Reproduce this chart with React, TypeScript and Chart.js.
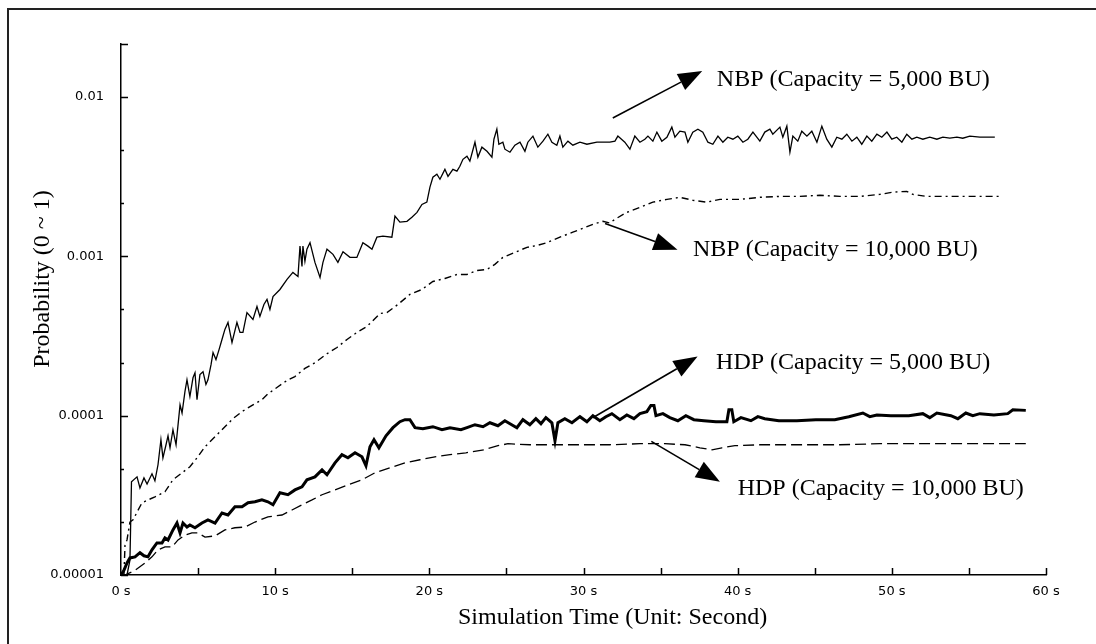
import React, { useEffect, useRef } from "react";
import { Chart, registerables } from "chart.js";

Chart.register(...registerables);

// [time (s), blocking probability]
const nbp5000: [number, number][] = [
  [0.39, 1.0e-5], [0.58, 1.24e-5], [0.62, 1.92e-5], [0.68, 3.85e-5], [1.04, 4.13e-5], [1.23, 3.52e-5],
  [1.49, 4.07e-5], [1.69, 3.73e-5], [2.01, 4.32e-5], [2.2, 3.9e-5], [2.4, 4.92e-5], [2.59, 7.06e-5],
  [2.72, 5.44e-5], [2.92, 6.57e-5], [3.05, 7.48e-5], [3.18, 6.29e-5], [3.37, 8.16e-5], [3.57, 6.57e-5],
  [3.83, 1.17e-4], [3.96, 1.04e-4], [4.15, 1.42e-4], [4.28, 1.68e-4], [4.47, 1.32e-4], [4.67, 1.73e-4],
  [4.8, 1.86e-4], [4.93, 1.26e-4], [5.12, 1.81e-4], [5.32, 1.89e-4], [5.51, 1.57e-4], [5.64, 1.68e-4],
  [5.84, 2.09e-4], [5.97, 2.49e-4], [6.16, 2.25e-4], [6.36, 2.6e-4], [6.55, 3.01e-4], [6.74, 3.48e-4],
  [6.94, 3.85e-4], [7.2, 2.88e-4], [7.52, 3.85e-4], [7.72, 3.33e-4], [7.91, 3.33e-4], [8.17, 4.44e-4],
  [8.56, 4.02e-4], [8.82, 4.85e-4], [9.01, 4.2e-4], [9.27, 4.99e-4], [9.47, 5.37e-4], [9.66, 4.64e-4],
  [9.86, 5.6e-4], [10.31, 6.2e-4], [10.77, 7.17e-4], [11.15, 7.93e-4], [11.48, 7.48e-4], [11.61, 1.16e-3],
  [11.74, 8.65e-4], [11.8, 1.16e-3], [11.93, 9.31e-4], [12.06, 1.11e-3], [12.26, 1.22e-3], [12.58, 9.17e-4],
  [12.91, 7.38e-4], [13.1, 9.17e-4], [13.36, 1.11e-3], [13.75, 1.03e-3], [14.07, 9.17e-4], [14.4, 1.07e-3],
  [14.85, 9.86e-4], [15.3, 9.86e-4], [15.69, 1.22e-3], [16.02, 1.16e-3], [16.28, 1.11e-3], [16.6, 1.32e-3],
  [16.99, 1.34e-3], [17.57, 1.32e-3], [17.77, 1.79e-3], [18.09, 1.64e-3], [18.55, 1.66e-3], [18.87, 1.76e-3],
  [19.2, 1.89e-3], [19.52, 2.12e-3], [19.84, 2.19e-3], [20.04, 2.72e-3], [20.23, 3.14e-3], [20.49, 3.28e-3],
  [20.69, 3.05e-3], [21.01, 3.52e-3], [21.21, 3.18e-3], [21.53, 3.52e-3], [21.79, 3.43e-3], [21.98, 3.68e-3],
  [22.18, 4.07e-3], [22.44, 4.26e-3], [22.63, 3.96e-3], [22.96, 5.21e-3], [23.15, 4.2e-3], [23.41, 4.85e-3],
  [23.74, 4.57e-3], [24.06, 4.2e-3], [24.19, 5.44e-3], [24.38, 6.29e-3], [24.51, 5.06e-3], [24.77, 5.21e-3],
  [24.9, 4.71e-3], [25.23, 4.51e-3], [25.55, 4.99e-3], [25.88, 5.21e-3], [26.2, 4.57e-3], [26.39, 5.21e-3],
  [26.72, 5.69e-3], [27.04, 4.85e-3], [27.37, 5.29e-3], [27.69, 5.85e-3], [27.95, 5.21e-3], [28.27, 4.99e-3],
  [28.47, 5.69e-3], [28.66, 4.85e-3], [28.99, 5.29e-3], [29.31, 4.99e-3], [29.77, 5.21e-3], [30.22, 5.06e-3],
  [30.87, 5.21e-3], [31.71, 5.21e-3], [32.04, 5.29e-3], [32.23, 5.69e-3], [32.68, 5.21e-3], [33.01, 4.71e-3],
  [33.33, 5.69e-3], [33.66, 5.21e-3], [33.98, 5.44e-3], [34.18, 5.69e-3], [34.5, 5.29e-3], [34.76, 6.03e-3],
  [35.08, 5.29e-3], [35.41, 5.6e-3], [35.73, 6.48e-3], [35.93, 5.6e-3], [36.25, 6.11e-3], [36.58, 6.03e-3],
  [36.77, 5.21e-3], [37.09, 6.03e-3], [37.42, 6.29e-3], [37.74, 6.03e-3], [38.07, 5.21e-3], [38.39, 5.06e-3],
  [38.72, 5.69e-3], [39.04, 5.21e-3], [39.36, 5.6e-3], [39.69, 5.44e-3], [40.01, 5.69e-3], [40.34, 5.21e-3],
  [40.66, 5.44e-3], [40.99, 6.03e-3], [41.44, 5.29e-3], [41.76, 6.03e-3], [42.09, 6.29e-3], [42.28, 5.85e-3],
  [42.74, 6.48e-3], [42.93, 5.6e-3], [43.19, 6.57e-3], [43.39, 4.51e-3], [43.58, 5.69e-3], [43.9, 5.29e-3],
  [44.16, 6.11e-3], [44.49, 5.69e-3], [44.81, 6.11e-3], [45.14, 5.21e-3], [45.46, 6.57e-3], [45.78, 5.44e-3],
  [46.11, 4.85e-3], [46.43, 5.6e-3], [46.76, 5.44e-3], [47.08, 5.85e-3], [47.41, 5.29e-3], [47.73, 5.6e-3],
  [48.05, 5.06e-3], [48.38, 5.69e-3], [48.7, 5.29e-3], [49.03, 5.85e-3], [49.35, 5.6e-3], [49.68, 6.03e-3],
  [50.0, 5.44e-3], [50.32, 5.6e-3], [50.65, 5.21e-3], [50.97, 5.85e-3], [51.3, 5.44e-3], [51.62, 5.6e-3],
  [52.01, 5.44e-3], [52.46, 5.6e-3], [52.92, 5.44e-3], [53.31, 5.6e-3], [53.76, 5.52e-3], [54.22, 5.6e-3],
  [54.6, 5.52e-3], [55.06, 5.69e-3], [55.71, 5.6e-3], [56.68, 5.6e-3],
];

const nbp10000: [number, number][] = [
  [0.19, 1.0e-5], [0.26, 1.54e-5], [0.39, 1.66e-5], [0.58, 2.15e-5], [0.78, 2.22e-5], [1.36, 2.84e-5],
  [1.75, 2.96e-5], [2.2, 3.09e-5], [2.85, 3.33e-5], [3.37, 3.96e-5], [3.96, 4.38e-5], [4.47, 4.78e-5],
  [4.93, 5.44e-5], [5.45, 6.38e-5], [5.9, 7.06e-5], [6.55, 8.16e-5], [7.26, 9.58e-5], [7.91, 1.07e-4],
  [8.56, 1.17e-4], [9.14, 1.26e-4], [9.53, 1.37e-4], [10.18, 1.52e-4], [10.83, 1.68e-4], [11.28, 1.76e-4],
  [11.93, 1.98e-4], [12.58, 2.15e-4], [13.36, 2.45e-4], [14.01, 2.68e-4], [14.66, 3.01e-4], [15.3, 3.33e-4],
  [15.95, 3.63e-4], [16.8, 4.38e-4], [17.25, 4.44e-4], [17.96, 4.99e-4], [18.74, 5.77e-4], [19.52, 6.2e-4],
  [20.23, 6.96e-4], [21.01, 7.27e-4], [21.79, 7.7e-4], [22.44, 7.7e-4], [23.09, 8.16e-4], [23.74, 8.28e-4],
  [24.25, 8.91e-4], [24.77, 9.86e-4], [25.55, 1.06e-3], [26.33, 1.14e-3], [26.98, 1.17e-3], [27.63, 1.22e-3],
  [28.47, 1.32e-3], [29.31, 1.42e-3], [29.96, 1.5e-3], [30.61, 1.59e-3], [31.26, 1.66e-3], [31.71, 1.62e-3],
  [32.04, 1.71e-3], [32.81, 1.89e-3], [33.66, 2.03e-3], [34.5, 2.19e-3], [35.41, 2.28e-3], [36.25, 2.35e-3],
  [37.09, 2.25e-3], [38.0, 2.19e-3], [38.85, 2.28e-3], [40.14, 2.28e-3], [41.44, 2.35e-3], [42.74, 2.38e-3],
  [44.03, 2.38e-3], [45.33, 2.42e-3], [46.63, 2.38e-3], [47.92, 2.38e-3], [49.22, 2.45e-3], [50.06, 2.53e-3],
  [50.97, 2.56e-3], [51.36, 2.45e-3], [52.27, 2.38e-3], [53.57, 2.38e-3], [54.86, 2.38e-3], [56.16, 2.38e-3],
  [57.13, 2.38e-3],
];

const hdp5000: [number, number][] = [
  [0.0, 1.0e-5], [0.19, 1.07e-5], [0.39, 1.19e-5], [0.58, 1.28e-5], [0.91, 1.3e-5], [1.23, 1.38e-5],
  [1.49, 1.32e-5], [1.75, 1.3e-5], [2.01, 1.44e-5], [2.33, 1.59e-5], [2.66, 1.59e-5], [2.85, 1.71e-5],
  [3.05, 1.66e-5], [3.37, 1.92e-5], [3.63, 2.12e-5], [3.83, 1.84e-5], [4.02, 2.12e-5], [4.28, 2.0e-5],
  [4.47, 2.06e-5], [4.8, 1.98e-5], [5.25, 2.12e-5], [5.64, 2.22e-5], [6.1, 2.12e-5], [6.55, 2.45e-5],
  [6.94, 2.38e-5], [7.39, 2.68e-5], [7.85, 2.68e-5], [8.24, 2.84e-5], [8.69, 2.88e-5], [9.14, 2.96e-5],
  [9.53, 2.88e-5], [9.86, 2.76e-5], [10.31, 3.28e-5], [10.83, 3.19e-5], [11.28, 3.42e-5], [11.74, 3.58e-5],
  [12.06, 3.96e-5], [12.58, 4.13e-5], [13.04, 4.57e-5], [13.36, 4.26e-5], [13.88, 5.06e-5], [14.33, 5.69e-5],
  [14.72, 5.44e-5], [15.18, 5.85e-5], [15.63, 5.52e-5], [15.89, 4.85e-5], [16.15, 6.38e-5], [16.41, 7.06e-5],
  [16.73, 6.29e-5], [17.19, 7.48e-5], [17.64, 8.41e-5], [18.09, 9.17e-5], [18.42, 9.44e-5], [18.74, 9.44e-5],
  [19.07, 8.41e-5], [19.58, 8.28e-5], [20.23, 8.53e-5], [20.82, 8.16e-5], [21.34, 8.41e-5], [22.05, 8.16e-5],
  [22.44, 8.41e-5], [22.96, 8.78e-5], [23.48, 8.53e-5], [23.93, 9.03e-5], [24.45, 8.65e-5], [24.9, 9.3e-5],
  [25.23, 8.91e-5], [25.68, 8.41e-5], [26.07, 9.44e-5], [26.52, 8.78e-5], [26.91, 9.58e-5], [27.24, 8.91e-5],
  [27.56, 9.72e-5], [27.95, 9.03e-5], [28.15, 6.96e-5], [28.34, 9.03e-5], [28.79, 9.58e-5], [29.25, 9.03e-5],
  [29.77, 9.86e-5], [30.22, 9.17e-5], [30.61, 1.0e-4], [31.06, 9.3e-5], [31.45, 9.86e-5], [31.84, 1.03e-4],
  [32.36, 9.44e-5], [32.81, 1.01e-4], [33.27, 9.58e-5], [33.66, 1.03e-4], [34.11, 1.06e-4], [34.37, 1.16e-4],
  [34.57, 1.16e-4], [34.7, 1.0e-4], [35.15, 1.03e-4], [35.6, 9.72e-5], [36.12, 9.3e-5], [36.64, 1.0e-4],
  [37.16, 9.44e-5], [37.81, 9.3e-5], [38.59, 9.17e-5], [39.3, 9.17e-5], [39.43, 1.09e-4], [39.62, 1.09e-4],
  [39.75, 9.17e-5], [40.21, 9.72e-5], [40.86, 9.3e-5], [41.31, 9.86e-5], [41.76, 9.58e-5], [42.67, 9.3e-5],
  [43.84, 9.3e-5], [45.07, 9.44e-5], [46.3, 9.44e-5], [47.21, 9.86e-5], [48.12, 1.04e-4], [48.57, 9.86e-5],
  [49.03, 1.01e-4], [49.94, 1.0e-4], [51.1, 1.0e-4], [52.01, 1.03e-4], [52.46, 9.72e-5], [52.92, 1.04e-4],
  [53.83, 1.0e-4], [54.28, 9.58e-5], [54.8, 1.04e-4], [55.25, 1.0e-4], [55.71, 1.03e-4], [56.62, 1.01e-4],
  [57.52, 1.03e-4], [57.85, 1.09e-4], [58.69, 1.08e-4],
];

const hdp10000: [number, number][] = [
  [0.0, 1.0e-5], [0.26, 1.0e-5], [0.91, 1.07e-5], [1.56, 1.19e-5], [2.01, 1.3e-5], [2.4, 1.44e-5],
  [2.85, 1.5e-5], [3.31, 1.5e-5], [3.7, 1.66e-5], [4.15, 1.78e-5], [4.6, 1.84e-5], [4.99, 1.84e-5],
  [5.45, 1.73e-5], [6.1, 1.76e-5], [6.74, 1.92e-5], [7.39, 1.98e-5], [8.04, 2.0e-5], [8.69, 2.15e-5],
  [9.53, 2.32e-5], [10.44, 2.38e-5], [11.09, 2.56e-5], [11.74, 2.76e-5], [12.39, 2.96e-5], [13.04, 3.19e-5],
  [13.88, 3.42e-5], [14.72, 3.68e-5], [15.63, 3.96e-5], [16.47, 4.38e-5], [17.44, 4.71e-5], [18.42, 5.06e-5],
  [19.39, 5.29e-5], [20.36, 5.52e-5], [21.34, 5.69e-5], [22.37, 5.85e-5], [23.54, 6.11e-5], [24.45, 6.48e-5],
  [25.1, 6.67e-5], [26.52, 6.57e-5], [28.15, 6.57e-5], [29.77, 6.57e-5], [31.71, 6.57e-5], [33.66, 6.67e-5],
  [35.28, 6.67e-5], [36.58, 6.57e-5], [37.55, 6.29e-5], [38.33, 6.11e-5], [38.98, 6.29e-5], [39.82, 6.48e-5],
  [41.44, 6.57e-5], [44.03, 6.57e-5], [46.63, 6.57e-5], [49.22, 6.67e-5], [51.82, 6.67e-5], [54.41, 6.67e-5],
  [57.0, 6.67e-5], [58.69, 6.67e-5],
];

const yTickValues = [0.00001, 0.0001, 0.001, 0.01];
const yTickLabels = ["0.00001", "0.0001", "0.001", "0.01"];
const xMin = 0;
const xMax = 60;
const xLabelStep = 10;
const xMinorStep = 5;

// Callouts: arrow tail, arrow tip and text anchor in (time, probability)
const callouts = [
  { label: "NBP (Capacity = 5,000 BU)", tail: [31.9, 7.4e-3], tip: [37.7, 1.46e-2], at: [38.65, 1.17e-2] },
  { label: "NBP (Capacity = 10,000 BU)", tail: [31.4, 1.61e-3], tip: [36.1, 1.1e-3], at: [37.1, 1.01e-3] },
  { label: "HDP (Capacity = 5,000 BU)", tail: [30.6, 9.7e-5], tip: [37.4, 2.35e-4], at: [38.6, 1.95e-4] },
  { label: "HDP (Capacity = 10,000 BU)", tail: [34.4, 6.9e-5], tip: [38.85, 3.85e-5], at: [40.0, 3.2e-5] },
];

const W = 1096;
const H = 644;
const SERIF = '"Liberation Serif", "Times New Roman", serif';
const SANS = '"DejaVu Sans", sans-serif';

const toPoints = (rows: [number, number][]) => rows.map(([x, y]) => ({ x, y }));

export default function App() {
  const canvasRef = useRef<HTMLCanvasElement>(null);

  useEffect(() => {
    const canvas = canvasRef.current;
    if (!canvas) return;

    const decorations = {
      id: "decorations",
      beforeDraw(chart: any) {
        const ctx = chart.ctx;
        ctx.save();
        ctx.fillStyle = "#fff";
        ctx.fillRect(0, 0, W, H);
        // page frame (top and left edges)
        ctx.strokeStyle = "#222";
        ctx.lineWidth = 2;
        ctx.beginPath();
        ctx.moveTo(8, H);
        ctx.lineTo(8, 9);
        ctx.lineTo(W, 9);
        ctx.stroke();
        ctx.restore();
      },
      afterDraw(chart: any) {
        const ctx = chart.ctx;
        const xs = chart.scales.x;
        const ys = chart.scales.y;
        const area = chart.chartArea;
        ctx.save();
        ctx.strokeStyle = "#000";
        ctx.lineWidth = 1.5;
        // inward tick marks on the time axis
        ctx.beginPath();
        for (let t = xMinorStep; t <= xMax; t += xMinorStep) {
          const px = Math.round(xs.getPixelForValue(t)) + 0.5;
          ctx.moveTo(px, area.bottom);
          ctx.lineTo(px, area.bottom - 7);
        }
        // inward tick marks on the probability axis, three per decade
        for (let k = 0; k <= 10; k++) {
          const v = Math.pow(10, -5 + k / 3);
          const py = Math.round(ys.getPixelForValue(v)) + 0.5;
          const len = k % 3 === 0 || k === 10 ? 7 : 3;
          ctx.moveTo(area.left, py);
          ctx.lineTo(area.left + len, py);
        }
        ctx.stroke();

        // axis titles
        ctx.fillStyle = "#000";
        ctx.font = `24px ${SERIF}`;
        ctx.textAlign = "left";
        ctx.textBaseline = "alphabetic";
        ctx.fillText("Simulation Time (Unit: Second)", 458, 624);
        ctx.save();
        ctx.translate(49, 279);
        ctx.rotate(-Math.PI / 2);
        ctx.textAlign = "center";
        ctx.fillText("Probability (0 ~ 1)", 0, 0);
        ctx.restore();

        // callouts
        for (const c of callouts) {
          const x0 = xs.getPixelForValue(c.tail[0]);
          const y0 = ys.getPixelForValue(c.tail[1]);
          const x1 = xs.getPixelForValue(c.tip[0]);
          const y1 = ys.getPixelForValue(c.tip[1]);
          const ang = Math.atan2(y1 - y0, x1 - x0);
          const headLen = 24;
          const headHalf = 9;
          const bx = x1 - headLen * Math.cos(ang);
          const by = y1 - headLen * Math.sin(ang);
          ctx.lineWidth = 1.6;
          ctx.beginPath();
          ctx.moveTo(x0, y0);
          ctx.lineTo(bx, by);
          ctx.stroke();
          ctx.beginPath();
          ctx.moveTo(x1, y1);
          ctx.lineTo(bx + headHalf * Math.sin(ang), by - headHalf * Math.cos(ang));
          ctx.lineTo(bx - headHalf * Math.sin(ang), by + headHalf * Math.cos(ang));
          ctx.closePath();
          ctx.fill();
          ctx.font = `24px ${SERIF}`;
          ctx.textAlign = "left";
          ctx.fillText(c.label, xs.getPixelForValue(c.at[0]), ys.getPixelForValue(c.at[1]));
        }
        ctx.restore();
      },
    };

    const common = { pointRadius: 0, tension: 0, fill: false, borderColor: "#000" };

    const chart = new Chart(canvas, {
      type: "line",
      data: {
        datasets: [
          { ...common, label: "NBP (Capacity = 5,000 BU)", data: toPoints(nbp5000), borderWidth: 1.3 },
          {
            ...common,
            label: "NBP (Capacity = 10,000 BU)",
            data: toPoints(nbp10000),
            borderWidth: 1.4,
            borderDash: [7, 4, 2, 4],
          },
          { ...common, label: "HDP (Capacity = 5,000 BU)", data: toPoints(hdp5000), borderWidth: 3 },
          {
            ...common,
            label: "HDP (Capacity = 10,000 BU)",
            data: toPoints(hdp10000),
            borderWidth: 1.3,
            borderDash: [11, 5],
          },
        ],
      },
      options: {
        responsive: false,
        animation: false,
        maintainAspectRatio: false,
        layout: { padding: { top: 44, right: 50, bottom: 0, left: 0 } },
        plugins: { legend: { display: false }, tooltip: { enabled: false } },
        scales: {
          x: {
            type: "linear",
            min: xMin,
            max: xMax,
            afterFit: (s: any) => {
              s.height = 69;
            },
            grid: { display: false, drawTicks: false },
            border: { display: true, color: "#000", width: 1.5 },
            ticks: {
              stepSize: xLabelStep,
              maxRotation: 0,
              autoSkip: false,
              padding: 9,
              color: "#000",
              font: { family: SANS, size: 13 },
              callback: (v: any) => `${v} s`,
            },
          },
          y: {
            type: "logarithmic",
            min: yTickValues[0],
            max: Math.pow(10, -5 / 3),
            afterFit: (s: any) => {
              s.width = 121;
            },
            afterBuildTicks: (s: any) => {
              s.ticks = yTickValues.map((value) => ({ value }));
            },
            grid: { display: false, drawTicks: false },
            border: { display: true, color: "#000", width: 1.5 },
            ticks: {
              padding: 17,
              color: "#000",
              font: { family: SANS, size: 13 },
              callback: (_v: any, i: number) => yTickLabels[i],
            },
          },
        },
      },
      plugins: [decorations],
    } as any);

    return () => chart.destroy();
  }, []);

  return (
    <div style={{ position: "fixed", left: 0, top: 0, width: W, height: H, background: "#fff" }}>
      <canvas ref={canvasRef} width={W} height={H} style={{ display: "block", width: W, height: H }} />
    </div>
  );
}
